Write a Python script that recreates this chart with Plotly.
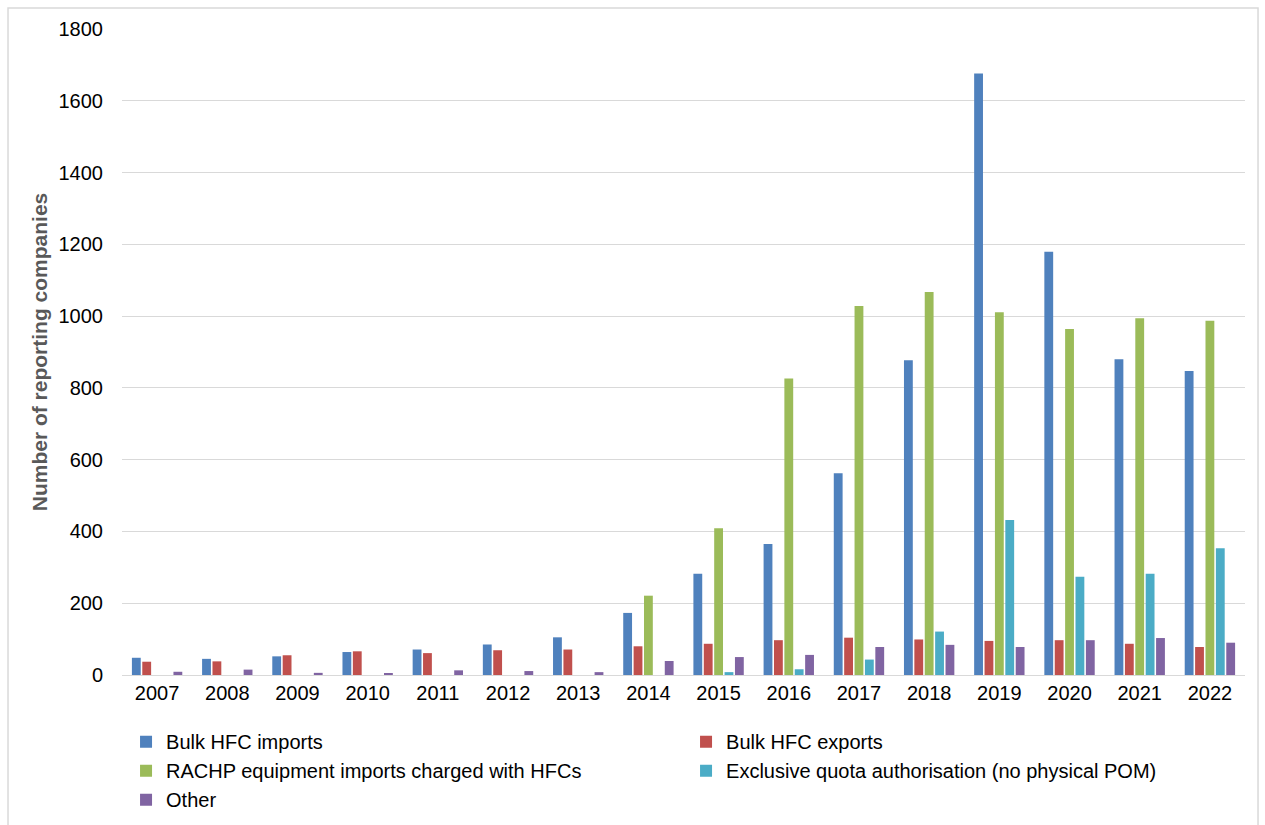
import plotly.graph_objects as go

# Reporting companies by activity type, 2007-2022
years = ["2007", "2008", "2009", "2010", "2011", "2012", "2013", "2014",
         "2015", "2016", "2017", "2018", "2019", "2020", "2021", "2022"]

bulk_imports = [48, 45, 52, 64, 71, 85, 105, 173, 282, 365, 562, 877, 1676, 1179, 880, 847]
bulk_exports = [37, 38, 55, 66, 61, 69, 71, 80, 87, 97, 104, 99, 95, 97, 87, 78]
rachp_imports = [0, 0, 0, 0, 0, 0, 0, 221, 409, 826, 1028, 1067, 1011, 964, 994, 987]
exclusive_quota = [0, 0, 0, 0, 0, 0, 0, 0, 8, 16, 43, 121, 432, 274, 282, 353]
other = [9, 15, 6, 4, 13, 11, 8, 39, 50, 56, 78, 84, 78, 97, 103, 90]

series = [
    ("Bulk HFC imports", bulk_imports, "#4F81BD"),
    ("Bulk HFC exports", bulk_exports, "#C0504D"),
    ("RACHP equipment imports charged with HFCs", rachp_imports, "#9BBB59"),
    ("Exclusive quota authorisation (no physical POM)", exclusive_quota, "#4BACC6"),
    ("Other", other, "#8064A2"),
]

FONT = "Liberation Sans, Arial, sans-serif"

fig = go.Figure()
for name, values, color in series:
    fig.add_trace(go.Bar(
        x=years, y=values, name=name,
        marker=dict(color=color, line=dict(width=0)),
    ))

fig.update_layout(
    width=1265, height=825,
    margin=dict(l=122, r=20, t=29, b=150, autoexpand=False),
    paper_bgcolor="white", plot_bgcolor="white",
    barmode="group", bargap=0.26, bargroupgap=0.15,
    font=dict(family=FONT, size=20, color="#000000"),
    showlegend=True,
    legend=dict(
        orientation="h", x=0.0036, y=-0.073, xanchor="left", yanchor="top",
        entrywidth=515, entrywidthmode="pixels",
        itemwidth=30, font=dict(size=20, color="#000000"),
        tracegroupgap=0, traceorder="normal",
    ),
)

fig.update_xaxes(
    type="category", showgrid=False, showline=True, linecolor="#D9D9D9",
    linewidth=1, ticks="", tickfont=dict(size=20),
)
fig.update_yaxes(
    range=[0, 1800], dtick=200, showgrid=True, gridcolor="#D9D9D9",
    gridwidth=1, zeroline=False, showline=False, ticks="",
    ticklabelstandoff=18, tickfont=dict(size=20),
    title=dict(text="<b>Number of reporting companies</b>",
               font=dict(size=21, color="#595959"), standoff=5),
)

# chart-area frame
fig.add_shape(
    type="rect", xref="paper", yref="paper",
    x0=-0.1015, x1=1.0116, y0=-0.26, y1=1.0325,
    line=dict(color="#D9D9D9", width=1.5), fillcolor="rgba(0,0,0,0)",
    layer="below",
)

fig.write_html("out.html")
